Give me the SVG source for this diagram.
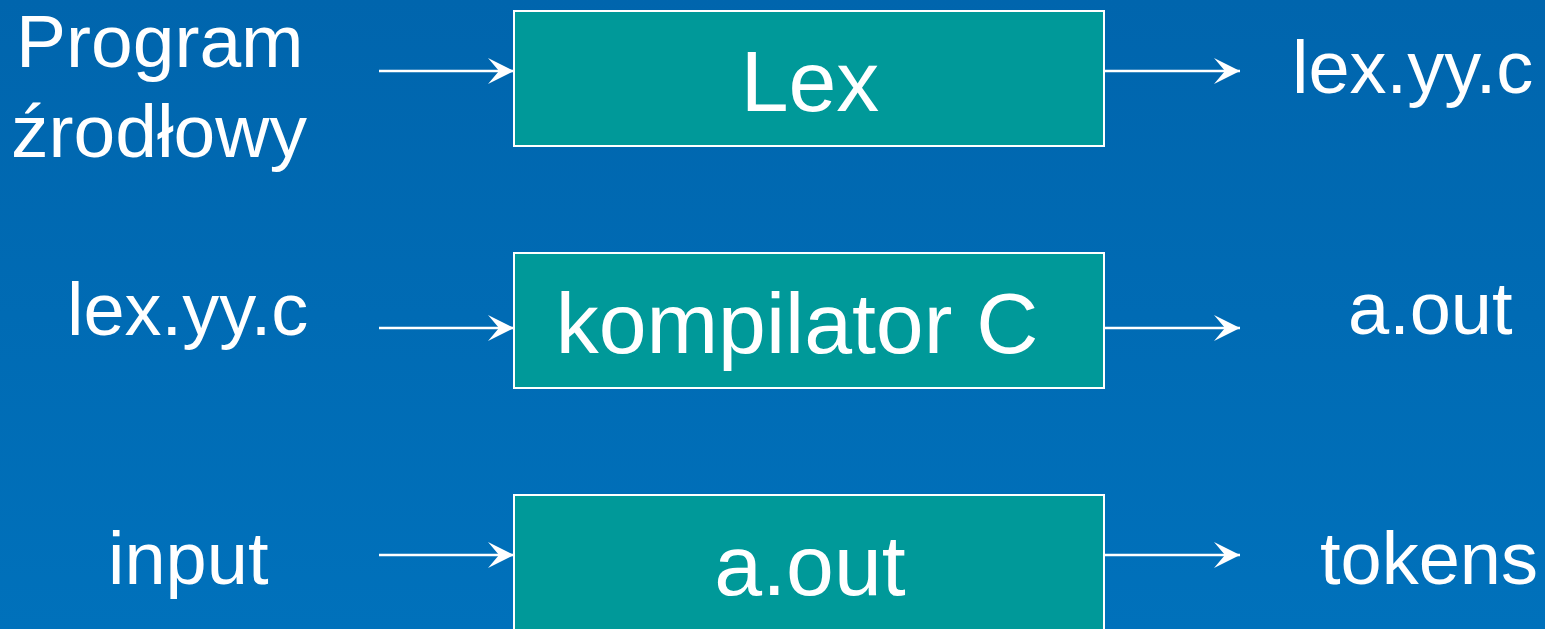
<svg xmlns="http://www.w3.org/2000/svg" width="1545" height="629" viewBox="0 0 1545 629">
  <defs>
    <linearGradient id="bg" x1="0" y1="0" x2="0" y2="1">
      <stop offset="0" stop-color="#0065AD"/>
      <stop offset="1" stop-color="#0071BB"/>
    </linearGradient>
    <marker id="arrow" markerUnits="userSpaceOnUse" viewBox="-27 -14 28 28" refX="0" refY="0" markerWidth="28" markerHeight="28" orient="auto">
      <path d="M0,0 L-26,-13 L-15,0 L-26,13 Z" fill="#FFFFFF"/>
    </marker>
    <style>
      .box { fill: #009999; stroke: #FFFFFF; stroke-width: 2; }
      .t { font-family: "Liberation Sans", Arial, sans-serif; fill: #FFFFFF; }
      .big { font-size: 86px; text-anchor: middle; }
      .side { font-size: 74px; }
      .src { font-size: 75px; }
      .conn { stroke: #FFFFFF; stroke-width: 2.5; fill: none; marker-end: url(#arrow); }
    </style>
  </defs>
  <rect x="0" y="0" width="1545" height="629" fill="url(#bg)"/>

  <g id="connectors">
    <line class="conn" x1="379" y1="71" x2="514" y2="71"/>
    <line class="conn" x1="1104" y1="71" x2="1240" y2="71"/>
    <line class="conn" x1="379" y1="328" x2="514" y2="328"/>
    <line class="conn" x1="1104" y1="328" x2="1240" y2="328"/>
    <line class="conn" x1="379" y1="555" x2="514" y2="555"/>
    <line class="conn" x1="1104" y1="555" x2="1240" y2="555"/>
  </g>

  <g id="src-program">
    <text class="t src" x="16" y="67">Program</text>
    <text class="t src" x="11" y="157">źrodłowy</text>
  </g>
  <g id="lex">
    <rect class="box" x="514" y="11" width="590" height="135"/>
    <text class="t big" x="810" y="111">Lex</text>
  </g>
  <g id="out-lexyyc">
    <text class="t side" x="1292" y="93">lex.yy.c</text>
  </g>

  <g id="in-lexyyc">
    <text class="t side" x="67" y="335">lex.yy.c</text>
  </g>
  <g id="compiler">
    <rect class="box" x="514" y="253" width="590" height="135"/>
    <text class="t big" x="797" y="353">kompilator C</text>
  </g>
  <g id="out-aout">
    <text class="t side" x="1348" y="334">a.out</text>
  </g>

  <g id="input">
    <text class="t side" x="108" y="584">input</text>
  </g>
  <g id="aout">
    <rect class="box" x="514" y="495" width="590" height="150"/>
    <text class="t big" x="810" y="595">a.out</text>
  </g>
  <g id="tokens">
    <text class="t side" x="1320" y="584">tokens</text>
  </g>
</svg>
